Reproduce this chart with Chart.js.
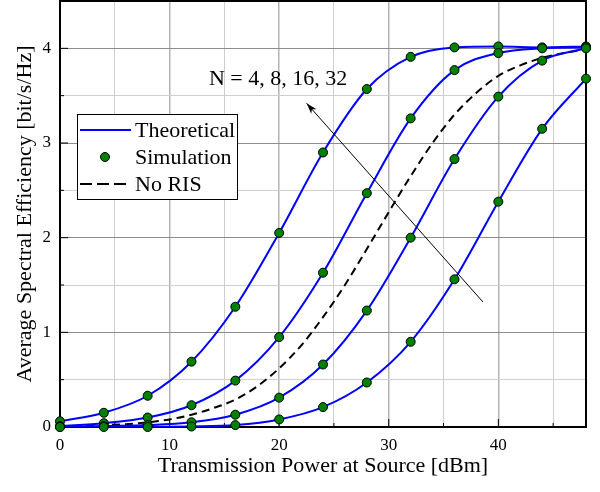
<!DOCTYPE html>
<html>
<head>
<meta charset="utf-8">
<script src="https://cdn.jsdelivr.net/npm/chart.js@4.4.1/dist/chart.umd.min.js"></script>
<style>
  html, body { margin: 0; padding: 0; background: #fff; }
  #wrap { width: 600px; height: 492px; }
</style>
</head>
<body>
<div id="wrap"><canvas id="myChart"></canvas></div>
<script>
// potencia de transmision (dBm), puntos de simulacion cada 4 dB
const power = [0, 4, 8, 12, 16, 20, 24, 28, 32, 36, 40, 44, 48];
const seN4  = [0.0, 0.0, 0.0, 0.005, 0.02, 0.08, 0.21, 0.47, 0.9, 1.56, 2.38, 3.15, 3.68];
const seN8  = [0.0, 0.01, 0.02, 0.05, 0.13, 0.31, 0.66, 1.23, 2.0, 2.83, 3.49, 3.87, 4.0];
const seN16 = [0.01, 0.04, 0.1, 0.23, 0.49, 0.95, 1.63, 2.47, 3.26, 3.77, 3.95, 4.0, 4.01];
const seN32 = [0.06, 0.15, 0.33, 0.69, 1.27, 2.05, 2.9, 3.57, 3.91, 4.01, 4.02, 4.01, 4.02];

// curva sin RIS (solo linea discontinua)
const noRisPower = [0, 2, 4, 6, 8, 10, 12, 14, 16, 18, 20, 22, 24, 26, 28, 30, 32, 34, 36, 38, 40, 42, 44, 46, 48];
const noRis = [0.01, 0.01, 0.02, 0.03, 0.05, 0.08, 0.13, 0.2, 0.29, 0.43, 0.62, 0.86, 1.16, 1.5, 1.88, 2.27, 2.65, 3.0, 3.3, 3.53, 3.71, 3.82, 3.9, 3.95, 3.99];

const xTicks = [0, 10, 20, 30, 40];
const yTicks = [0, 1, 2, 3, 4];
const labelN = "N = 4, 8, 16, 32";

const SERIF = "'Liberation Serif', 'Times New Roman', serif";
const toPts = (xs, ys) => xs.map((x, i) => ({ x: x, y: ys[i] }));
const seriesN = [seN4, seN8, seN16, seN32];

const datasets = [];
// marcadores primero para que queden encima
seriesN.forEach(s => datasets.push({
  label: "Simulation",
  data: toPts(power, s),
  showLine: false,
  pointRadius: 4.5,
  pointBackgroundColor: "#008000",
  pointBorderColor: "#000",
  pointBorderWidth: 1,
  clip: 8
}));
seriesN.forEach(s => datasets.push({
  label: "Theoretical",
  data: toPts(power, s),
  borderColor: "#0000ff",
  borderWidth: 2,
  pointRadius: 0,
  cubicInterpolationMode: "monotone"
}));
datasets.push({
  label: "No RIS",
  data: toPts(noRisPower, noRis),
  borderColor: "#000",
  borderWidth: 2,
  borderDash: [8, 5],
  pointRadius: 0,
  cubicInterpolationMode: "monotone"
});

// marco, marcas interiores, leyenda y flecha
const extras = {
  id: "extras",
  beforeDatasetsDraw(chart) {
    const { ctx, chartArea: a, scales } = chart;
    ctx.save();
    ctx.strokeStyle = "#000";
    ctx.lineWidth = 1;
    // marcas hacia dentro
    scales.x.ticks.forEach(t => {
      if (t.value <= 0 || t.value >= 48) return;
      const px = scales.x.getPixelForValue(t.value);
      const len = t.value % 10 === 0 ? 8 : 4;
      ctx.beginPath(); ctx.moveTo(px, a.bottom); ctx.lineTo(px, a.bottom - len); ctx.stroke();
    });
    scales.y.ticks.forEach(t => {
      if (t.value <= 0 || t.value >= 4.5) return;
      const py = scales.y.getPixelForValue(t.value);
      const len = Number.isInteger(t.value) ? 8 : 4;
      ctx.beginPath(); ctx.moveTo(a.left, py); ctx.lineTo(a.left + len, py); ctx.stroke();
    });
    ctx.lineWidth = 2;
    ctx.strokeRect(a.left, a.top, a.right - a.left, a.bottom - a.top);
    ctx.restore();
  },
  afterDatasetsDraw(chart) {
    const { ctx, chartArea: a, scales } = chart;
    ctx.save();

    // flecha
    const x0 = scales.x.getPixelForValue(38.6), y0 = scales.y.getPixelForValue(1.32);
    const x1 = scales.x.getPixelForValue(22.5), y1 = scales.y.getPixelForValue(3.42);
    ctx.strokeStyle = "#000";
    ctx.fillStyle = "#000";
    ctx.lineWidth = 1;
    ctx.beginPath(); ctx.moveTo(x0, y0); ctx.lineTo(x1, y1); ctx.stroke();
    const ang = Math.atan2(y1 - y0, x1 - x0);
    ctx.beginPath();
    ctx.moveTo(x1, y1);
    ctx.lineTo(x1 - 11 * Math.cos(ang) + 3.5 * Math.sin(ang), y1 - 11 * Math.sin(ang) - 3.5 * Math.cos(ang));
    ctx.lineTo(x1 - 8 * Math.cos(ang), y1 - 8 * Math.sin(ang));
    ctx.lineTo(x1 - 11 * Math.cos(ang) - 3.5 * Math.sin(ang), y1 - 11 * Math.sin(ang) + 3.5 * Math.cos(ang));
    ctx.closePath();
    ctx.fill();

    // texto N
    ctx.font = "22px " + SERIF;
    ctx.textAlign = "center";
    ctx.textBaseline = "middle";
    ctx.fillText(labelN, scales.x.getPixelForValue(19.9), scales.y.getPixelForValue(3.67));

    // leyenda
    const lx = a.left + 17, ly = a.top + 113, lw = 160, lh = 85;
    ctx.fillStyle = "#fff";
    ctx.fillRect(lx, ly, lw, lh);
    ctx.strokeStyle = "#000";
    ctx.lineWidth = 1;
    ctx.strokeRect(lx + 0.5, ly + 0.5, lw, lh);

    const rows = [ly + 16, ly + 43, ly + 70];
    ctx.lineWidth = 2;
    ctx.strokeStyle = "#0000ff";
    ctx.beginPath(); ctx.moveTo(lx + 3, rows[0]); ctx.lineTo(lx + 54, rows[0]); ctx.stroke();

    ctx.beginPath();
    ctx.arc(lx + 28, rows[1], 4.5, 0, Math.PI * 2);
    ctx.fillStyle = "#008000";
    ctx.fill();
    ctx.lineWidth = 1;
    ctx.strokeStyle = "#000";
    ctx.stroke();

    ctx.lineWidth = 2;
    ctx.setLineDash([12, 5]);
    ctx.beginPath(); ctx.moveTo(lx + 3, rows[2]); ctx.lineTo(lx + 52, rows[2]); ctx.stroke();
    ctx.setLineDash([]);

    ctx.fillStyle = "#000";
    ctx.font = "22px " + SERIF;
    ctx.textAlign = "left";
    ctx.textBaseline = "middle";
    ctx.fillText("Theoretical", lx + 58, rows[0] + 1);
    ctx.fillText("Simulation", lx + 58, rows[1] + 1);
    ctx.fillText("No RIS", lx + 58, rows[2] + 1);
    ctx.restore();
  }
};

const ctx = document.getElementById("myChart").getContext("2d");
window.myChart = new Chart(ctx, {
  type: "line",
  data: { datasets: datasets },
  options: {
    responsive: true,
    maintainAspectRatio: false,
    animation: false,
    events: [],
    layout: { autoPadding: false, padding: { top: 1, right: 14, left: 0, bottom: 0 } },
    plugins: {
      legend: { display: false },
      tooltip: { enabled: false }
    },
    scales: {
      x: {
        type: "linear",
        min: 0,
        max: 48,
        afterFit: s => { s.height = 65; s.paddingLeft = 0; s.paddingRight = 0; },
        border: { display: false },
        grid: {
          drawTicks: false,
          lineWidth: c => (c.tick && c.tick.value % 10 === 0) ? 1.5 : 1,
          color: c => {
            const v = c.tick ? c.tick.value : 0;
            if (v % 10 === 0) return "#b4b4b4";
            if (v % 5 === 0) return "#cfcfcf";
            return "rgba(0,0,0,0)";
          },
          borderDash: c => (c.tick && c.tick.value % 10 === 0) ? [] : [2, 2]
        },
        ticks: {
          stepSize: 5,
          padding: 8,
          color: "#000",
          font: { family: SERIF, size: 17 },
          maxRotation: 0,
          autoSkip: false,
          callback: v => xTicks.includes(v) ? String(v) : ""
        },
        title: {
          display: true,
          text: "Transmission Power at Source [dBm]",
          color: "#000",
          font: { family: SERIF, size: 22 },
          padding: { top: 0, bottom: 13 }
        }
      },
      y: {
        min: 0,
        max: 4.5,
        afterFit: s => { s.width = 60; s.paddingTop = 0; s.paddingBottom = 0; },
        border: { display: false },
        grid: {
          drawTicks: false,
          lineWidth: 1,
          color: c => (c.tick && Number.isInteger(c.tick.value)) ? "#8c8c8c" : "#cfcfcf",
          borderDash: c => (c.tick && Number.isInteger(c.tick.value)) ? [] : [2, 2]
        },
        ticks: {
          stepSize: 0.5,
          padding: 9,
          color: "#000",
          font: { family: SERIF, size: 17 },
          autoSkip: false,
          callback: v => yTicks.includes(v) ? String(v) : ""
        },
        title: {
          display: true,
          text: "Average Spectral Efficiency [bit/s/Hz]",
          color: "#000",
          font: { family: SERIF, size: 22 },
          padding: { top: 12, bottom: 0 }
        }
      }
    }
  },
  plugins: [extras]
});
</script>
</body>
</html>
